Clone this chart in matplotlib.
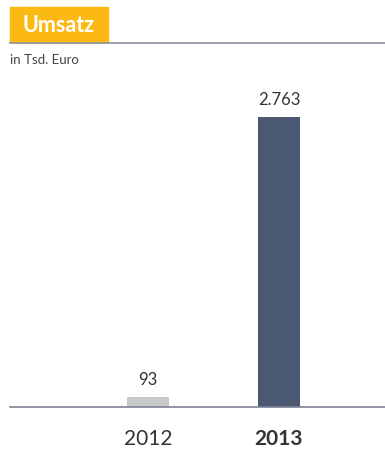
import matplotlib.pyplot as plt
from matplotlib.patches import Rectangle

plt.rcParams['font.family'] = ['Lato', 'DejaVu Sans']

years = ['2012', '2013']
umsatz = [93, 2763]
labels = ['93', '2.763']
colors = ['#c8c9cb', '#4a5872']

W, H = 385, 455
fig = plt.figure(figsize=(W / 100, H / 100), dpi=100)

# axes in pixel coords: x 10..385, y baseline 407 up to 70
ax = fig.add_axes([10 / W, (H - 407) / H, 375 / W, (407 - 70) / H])
ax.bar([0, 1], umsatz, width=0.32, color=colors)
ax.set_xlim(-1.053, 1.809)
ax.set_ylim(0, 2763 * (407 - 70) / 290)
for i, v in enumerate(umsatz):
    ax.text(i, v + 85, labels[i], ha='center', va='bottom', fontsize=12, color='#333333')
for s in ['top', 'right', 'left']:
    ax.spines[s].set_visible(False)
ax.spines['bottom'].set_color('#7d8296')
ax.spines['bottom'].set_linewidth(1.2)
ax.set_yticks([])
ax.set_xticks([0, 1])
ax.set_xticklabels(years, fontsize=15, color='#333333')
ax.get_xticklabels()[1].set_fontweight('bold')
ax.tick_params(axis='x', length=0, pad=16)

# header
fig.patches.append(Rectangle((10 / W, (H - 42) / H), 98 / W, 35 / H,
                             transform=fig.transFigure, color='#fdb913'))
fig.text(59 / W, (H - 25) / H, 'Umsatz', ha='center', va='center', fontsize=15.5,
         fontweight='bold', color='white')
fig.add_artist(plt.Line2D([10 / W, 1], [(H - 43) / H] * 2, color='#8a8fa0', lw=1.2))
fig.text(10 / W, (H - 60) / H, 'in Tsd. Euro', ha='left', va='center', fontsize=9.5, color='#444444')

fig.savefig('out.png', dpi=100)
